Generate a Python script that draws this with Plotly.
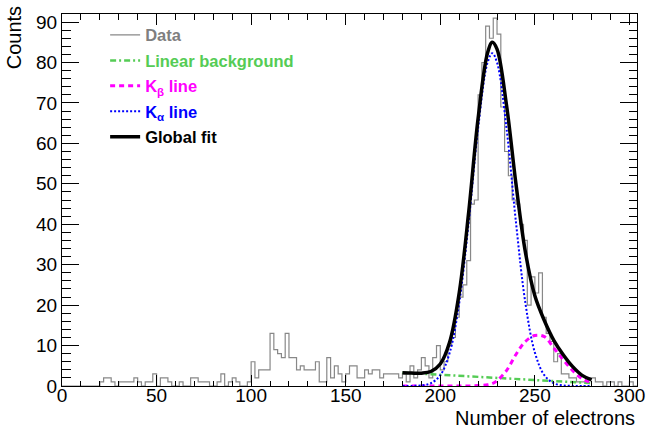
import plotly.graph_objects as go

# ---------------- data ----------------
bin_width = 2
bin_edges = list(range(0, 306, bin_width))  # 0..304
counts = [
    0, 0, 0, 0, 0, 0, 0, 0, 0, 0,          # 0-18
    1, 2, 2, 1, 0, 1, 1, 1, 1, 2,          # 20-38
    1, 0, 1, 1, 3, 0, 2, 2, 1, 0,          # 40-58
    0, 1, 0, 0, 2, 2, 1, 1, 1, 0,          # 60-78
    0, 1, 3, 0, 1, 2, 1, 0, 0, 1,          # 80-98
    6, 2, 4, 4, 4, 13, 9, 8, 7, 13,        # 100-118
    7, 7, 4, 5, 4, 4, 4, 6, 1, 1,          # 120-138
    7, 2, 5, 3, 1, 3, 5, 5, 2, 2,          # 140-158
    4, 3, 4, 4, 2, 3, 3, 3, 3, 2,          # 160-178
    3, 1, 5, 2, 4, 7, 5, 2, 7, 10,         # 180-198
    4, 6, 10, 12, 17, 22, 25, 31, 45, 46,  # 200-218
    72, 80, 89, 86, 91, 87, 69, 58, 52, 46,  # 220-238
    45, 40, 36, 20, 27, 23, 28, 17, 13, 11,  # 240-258
    6, 8, 3, 3, 2, 2, 1, 1, 1, 2,          # 260-278
    2, 1, 1, 0, 1, 1, 0, 1, 0, 0,          # 280-298
    1, 0,                                  # 300-302
]

fit_x = [180, 185, 190, 195, 200, 205, 210, 215, 220, 225, 227.5,
         230, 235, 240, 245, 250, 255, 260, 265, 270, 275, 280]
bkg_y = [3.30, 3.17, 3.04, 2.91, 2.78, 2.65, 2.52, 2.39, 2.26, 2.13, 2.07,
         2.00, 1.87, 1.74, 1.61, 1.48, 1.35, 1.22, 1.09, 0.96, 0.83, 0.70]
kbeta_y = [0, 0, 0, 0, 0, 0, 0.01, 0.02, 0.1, 0.3, 0.6,
           1.3, 3.8, 7.8, 11.0, 12.5, 12.2, 9.4, 6.5, 3.8, 1.8, 0.8]
kalpha_y = [0.0, 0.02, 0.14, 0.68, 2.67, 8.29, 20.5, 40.5, 63.8, 80.0, 82.3,
            80.0, 63.8, 40.5, 20.5, 8.29, 2.67, 0.68, 0.14, 0.02, 0.0, 0.0]
global_y = [3.30, 3.19, 3.18, 3.59, 5.45, 10.94, 23.0, 42.9, 66.2, 82.4, 85.0,
            83.3, 69.5, 50.0, 33.1, 22.3, 16.2, 11.3, 7.73, 4.78, 2.63, 1.50]

x_ticks = [0, 50, 100, 150, 200, 250, 300]
y_ticks = [0, 10, 20, 30, 40, 50, 60, 70, 80, 90]

# ---------------- styles ----------------
FONT = "Liberation Sans, Arial, Helvetica, sans-serif"
C_DATA = "#7f7f7f"
C_BKG = "#55cc55"
C_KB = "#ff00ff"
C_KA = "#0000ff"
C_FIT = "#000000"

def lbl(text, color):
    return f"<span style='color:{color}'><b>{text}</b></span>"

fig = go.Figure()

step_x = bin_edges
step_y = counts + [counts[-1]]
fig.add_trace(go.Scatter(x=step_x, y=step_y, mode="lines", line_shape="hv",
                         line=dict(color="#888888", width=1.2),
                         name=lbl("Data", C_DATA), legendgroup="a"))
fig.add_trace(go.Scatter(x=fit_x, y=bkg_y, mode="lines",
                         line=dict(color=C_BKG, width=2.5, dash="6px,3px,2px,3px"),
                         name=lbl("Linear background", C_BKG), legendgroup="b"))
fig.add_trace(go.Scatter(x=fit_x, y=kbeta_y, mode="lines", line_shape="spline",
                         line=dict(color=C_KB, width=3, dash="5px,4px"),
                         name=lbl("K<sub>β</sub> line", C_KB), legendgroup="c"))
fig.add_trace(go.Scatter(x=fit_x, y=kalpha_y, mode="lines", line_shape="spline",
                         line=dict(color=C_KA, width=2, dash="2px,2px"),
                         name=lbl("K<sub>α</sub> line", C_KA), legendgroup="d"))
fig.add_trace(go.Scatter(x=fit_x, y=global_y, mode="lines", line_shape="spline",
                         line=dict(color=C_FIT, width=3.5),
                         name=lbl("Global fit", C_FIT), legendgroup="e"))

axis_common = dict(
    showline=True, linecolor="black", linewidth=1, mirror="allticks",
    ticks="inside", tickcolor="black", tickwidth=1,
    showgrid=False, zeroline=False, automargin=False,
    tickfont=dict(family=FONT, size=19, color="black"),
)

fig.update_xaxes(range=[0, 304], tickvals=x_ticks, ticklen=11, ticklabelstandoff=-8,
                 minor=dict(dtick=10, ticklen=5.5, ticks="inside", tickcolor="black", tickwidth=1),
                 **axis_common)
fig.update_yaxes(range=[0, 92], tickvals=y_ticks, ticklen=17,
                 minor=dict(dtick=2, ticklen=8.5, ticks="inside", tickcolor="black", tickwidth=1),
                 **axis_common)

fig.update_layout(
    width=649, height=437,
    margin=dict(l=62, r=12, t=14, b=51, pad=0),
    paper_bgcolor="white", plot_bgcolor="white",
    font=dict(family=FONT, size=16.5, color="black"),
    showlegend=True,
    legend=dict(x=0.075, y=0.99, xanchor="left", yanchor="top",
                bgcolor="rgba(0,0,0,0)", borderwidth=0,
                font=dict(family=FONT, size=16.5),
                traceorder="grouped", tracegroupgap=1),
    annotations=[
        dict(text="Number of electrons", xref="paper", yref="paper",
             x=1.0, y=-0.086, xanchor="right", yanchor="middle", showarrow=False,
             font=dict(family=FONT, size=20, color="black")),
        dict(text="Counts", xref="paper", yref="paper", textangle=-90,
             x=-0.082, y=0.937, xanchor="center", yanchor="middle", showarrow=False,
             font=dict(family=FONT, size=20, color="black")),
    ],
)

fig.write_html("out.html", config={"displayModeBar": False},
               post_script="document.body.style.margin='0';document.body.style.overflow='hidden';")
